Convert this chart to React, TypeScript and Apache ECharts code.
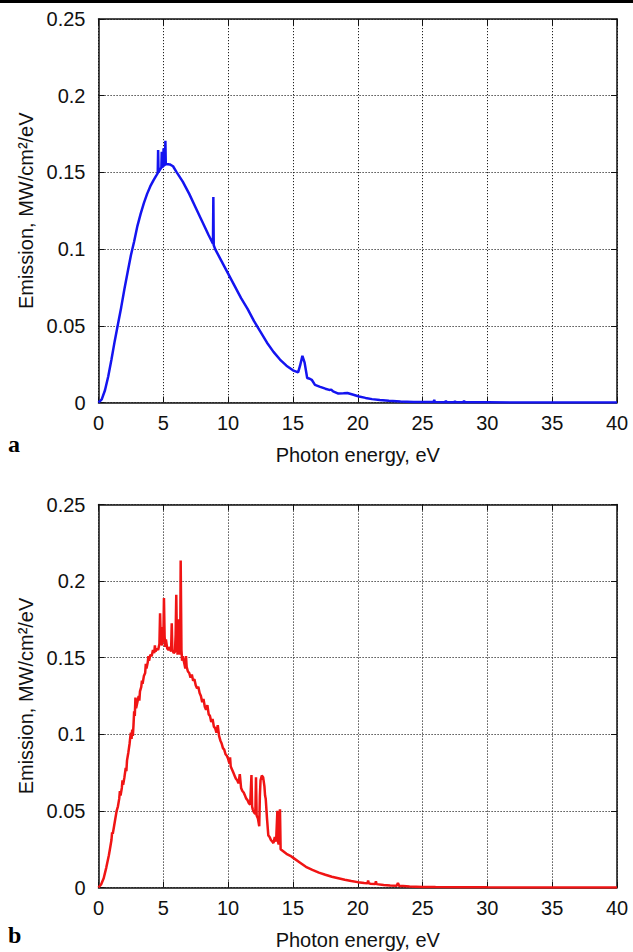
import { useEffect, useRef } from "react";
import * as echarts from "echarts";

// Panel a: emission spectrum (blue), [photon energy eV, emission MW/cm²/eV]
const spectrumA: [number, number][] = [
  [0, 0], [0.25, 0.002], [0.5, 0.008], [0.75, 0.017], [1, 0.028], [1.25, 0.04],
  [1.5, 0.051], [1.75, 0.062], [2, 0.074], [2.25, 0.085], [2.5, 0.096], [2.75, 0.105],
  [3, 0.115], [3.25, 0.123], [3.5, 0.13], [3.75, 0.136], [4, 0.141], [4.25, 0.145],
  [4.5, 0.1485], [4.57, 0.1495], [4.6, 0.1646], [4.63, 0.1502], [4.75, 0.152],
  [4.85, 0.153], [4.88, 0.1635], [4.91, 0.1535], [5.0, 0.154], [5.02, 0.1657],
  [5.05, 0.1545], [5.13, 0.155], [5.16, 0.1707], [5.19, 0.1553], [5.25, 0.1555],
  [5.5, 0.1552], [5.75, 0.154], [6, 0.1505], [6.5, 0.144], [7, 0.136], [7.5, 0.127],
  [8, 0.118], [8.5, 0.109], [8.83, 0.1035], [8.86, 0.134], [8.89, 0.1025], [9, 0.1],
  [9.5, 0.092], [10, 0.084], [10.5, 0.076], [11, 0.068], [11.5, 0.061], [12, 0.053],
  [12.5, 0.046], [13, 0.039], [13.5, 0.033], [14, 0.028], [14.5, 0.024], [15, 0.021],
  [15.4, 0.0196], [15.55, 0.024], [15.73, 0.0304], [15.9, 0.026], [16.1, 0.016],
  [16.3, 0.0155], [16.45, 0.0148], [16.7, 0.0115], [17.1, 0.0102], [17.5, 0.009],
  [17.8, 0.0082], [17.95, 0.0084], [18.1, 0.0072], [18.5, 0.0058], [18.9, 0.006],
  [19.2, 0.0062], [19.6, 0.0052], [20.1, 0.0039], [20.6, 0.003], [21.1, 0.0022],
  [21.7, 0.0016], [22.4, 0.0011], [23.3, 0.0007], [24.3, 0.0004], [25, 0.0003],
  [25.85, 0.0003], [25.9, 0.0018], [25.95, 0.0003], [26.75, 0.0002], [26.8, 0.0012],
  [26.85, 0.0002], [27.45, 0.0002], [27.5, 0.0009], [27.55, 0.0002], [28.15, 0.0001],
  [28.2, 0.0011], [28.25, 0.0001], [30, 0.0001], [35, 0], [40, 0],
];

// Panel b: emission spectrum (red), [photon energy eV, emission MW/cm²/eV]
const spectrumB: [number, number][] = [
  [0, 0], [0.2, 0.002], [0.4, 0.006], [0.6, 0.013], [0.8, 0.021], [0.9, 0.026],
  [1.0, 0.031], [1.05, 0.036], [1.1, 0.035], [1.2, 0.04], [1.3, 0.045], [1.4, 0.05],
  [1.5, 0.053], [1.6, 0.058], [1.65, 0.063], [1.7, 0.06], [1.8, 0.065], [1.85, 0.07],
  [1.9, 0.067], [2.0, 0.072], [2.1, 0.078], [2.15, 0.076], [2.2, 0.083], [2.3, 0.088],
  [2.4, 0.094], [2.45, 0.098], [2.5, 0.101], [2.55, 0.097], [2.6, 0.103], [2.65, 0.099],
  [2.7, 0.106], [2.75, 0.115], [2.8, 0.112], [2.85, 0.124], [2.9, 0.117], [3.0, 0.121],
  [3.1, 0.125], [3.15, 0.122], [3.2, 0.128], [3.3, 0.131], [3.35, 0.135], [3.4, 0.133],
  [3.5, 0.138], [3.6, 0.14], [3.65, 0.146], [3.7, 0.143], [3.8, 0.147], [3.85, 0.151],
  [3.9, 0.148], [4.0, 0.152], [4.1, 0.151], [4.2, 0.155], [4.3, 0.153], [4.35, 0.158],
  [4.4, 0.154], [4.5, 0.156], [4.6, 0.155], [4.7, 0.159], [4.75, 0.179], [4.8, 0.163],
  [4.9, 0.158], [4.95, 0.17], [5.0, 0.16], [5.05, 0.189], [5.1, 0.164], [5.15, 0.157],
  [5.2, 0.162], [5.3, 0.156], [5.4, 0.155], [5.5, 0.157], [5.6, 0.154], [5.65, 0.1725],
  [5.7, 0.155], [5.8, 0.153], [5.9, 0.154], [5.95, 0.165], [6.0, 0.191], [6.05, 0.16],
  [6.1, 0.152], [6.2, 0.175], [6.3, 0.152], [6.34, 0.2135], [6.4, 0.155], [6.45, 0.148],
  [6.5, 0.151], [6.6, 0.147], [6.7, 0.143], [6.75, 0.151], [6.8, 0.144], [6.9, 0.141],
  [7.0, 0.14], [7.1, 0.137], [7.2, 0.139], [7.3, 0.135], [7.4, 0.136], [7.5, 0.132],
  [7.6, 0.13], [7.7, 0.131], [7.8, 0.127], [7.9, 0.125], [8.0, 0.121], [8.1, 0.123],
  [8.2, 0.118], [8.3, 0.116], [8.4, 0.119], [8.5, 0.113], [8.6, 0.112], [8.7, 0.108],
  [8.8, 0.11], [8.9, 0.105], [9.0, 0.104], [9.1, 0.101], [9.2, 0.106], [9.3, 0.099],
  [9.4, 0.096], [9.5, 0.094], [9.6, 0.091], [9.7, 0.09], [9.8, 0.087], [9.9, 0.086],
  [10.0, 0.084], [10.1, 0.081], [10.15, 0.085], [10.2, 0.079], [10.3, 0.077],
  [10.4, 0.075], [10.5, 0.073], [10.6, 0.071], [10.7, 0.07], [10.8, 0.068], [10.9, 0.074],
  [11.0, 0.065], [11.1, 0.063], [11.2, 0.062], [11.3, 0.06], [11.4, 0.058], [11.5, 0.057],
  [11.6, 0.055], [11.7, 0.054], [11.8, 0.0734], [11.85, 0.053], [11.9, 0.051],
  [12.0, 0.049], [12.1, 0.048], [12.15, 0.072], [12.2, 0.047], [12.3, 0.045],
  [12.4, 0.04], [12.45, 0.06], [12.5, 0.07], [12.6, 0.073], [12.7, 0.072], [12.8, 0.066],
  [12.85, 0.06], [12.9, 0.058], [13.0, 0.045], [13.1, 0.034], [13.2, 0.033], [13.3, 0.031],
  [13.4, 0.03], [13.5, 0.029], [13.6, 0.033], [13.7, 0.03], [13.8, 0.05], [13.85, 0.03],
  [13.9, 0.028], [14.0, 0.051], [14.05, 0.025], [14.2, 0.024], [14.5, 0.022],
  [14.8, 0.0207], [15.0, 0.0195], [15.5, 0.0165], [16.0, 0.0135], [16.5, 0.0115],
  [17.0, 0.0097], [17.5, 0.0083], [18.0, 0.007], [18.5, 0.006], [19.0, 0.005],
  [19.5, 0.0042], [20.0, 0.0035], [20.5, 0.0029], [20.75, 0.0027], [20.8, 0.0045],
  [20.85, 0.0027], [21.0, 0.0025], [21.35, 0.0023], [21.4, 0.004], [21.45, 0.0022],
  [22.0, 0.0017], [22.5, 0.0013], [23.0, 0.0011], [23.1, 0.003], [23.2, 0.001],
  [23.5, 0.0009], [24, 0.0007], [25, 0.0004], [26, 0.0003], [28, 0.0002], [30, 0.0001],
  [35, 0], [40, 0],
];

const X_MIN = 0;
const X_MAX = 40;
const X_STEP = 5;
const Y_MIN = 0;
const Y_MAX = 0.25;
const Y_STEP = 0.05;
const X_NAME = "Photon energy, eV";
const Y_NAME = "Emission, MW/cm²/eV";
const PANEL_LABELS = ["a", "b"];

export default function App() {
  const ref = useRef<HTMLDivElement>(null);

  useEffect(() => {
    if (!ref.current) return;
    const chart = echarts.init(ref.current, null, { renderer: "svg" });
    const font = "'Liberation Sans', Arial, Helvetica, sans-serif";
    const ink = "#111";
    const grids = [
      { left: 98.5, top: 19, width: 518.5, height: 383.5 },
      { left: 98.5, top: 504.5, width: 518.5, height: 383 },
    ];
    const frame = { show: true, onZero: false, lineStyle: { color: ink, width: 1.5 } };
    const tick = { show: true, inside: true, length: 6, lineStyle: { color: ink, width: 1 } };
    const split = { show: true, lineStyle: { color: "#222", type: [1.2, 1.8], width: 1 } };
    const label = { fontSize: 20, color: ink, fontFamily: font };

    const xAxis: any[] = [];
    const yAxis: any[] = [];
    grids.forEach((_, i) => {
      xAxis.push({
        type: "value", gridIndex: i, min: X_MIN, max: X_MAX, interval: X_STEP,
        position: "bottom", axisLine: frame, axisTick: tick, splitLine: split,
        axisLabel: { ...label, margin: 10 },
        name: X_NAME, nameLocation: "middle", nameGap: 42,
        nameTextStyle: { ...label },
      });
      xAxis.push({
        type: "value", gridIndex: i, min: X_MIN, max: X_MAX, interval: X_STEP,
        position: "top", axisLine: frame, axisTick: tick,
        axisLabel: { show: false }, splitLine: { show: false },
      });
      yAxis.push({
        type: "value", gridIndex: i, min: Y_MIN, max: Y_MAX, interval: Y_STEP,
        position: "left", axisLine: frame, axisTick: tick, splitLine: split,
        axisLabel: { ...label, margin: 13 },
        name: Y_NAME, nameLocation: "middle", nameGap: 60,
        nameTextStyle: { ...label },
      });
      yAxis.push({
        type: "value", gridIndex: i, min: Y_MIN, max: Y_MAX, interval: Y_STEP,
        position: "right", axisLine: frame, axisTick: tick,
        axisLabel: { show: false }, splitLine: { show: false },
      });
    });

    chart.setOption({
      animation: false,
      backgroundColor: "#fff",
      grid: grids,
      xAxis,
      yAxis,
      series: [
        {
          type: "line", xAxisIndex: 0, yAxisIndex: 0, data: spectrumA,
          showSymbol: false, symbol: "none",
          lineStyle: { color: "#1414f0", width: 2.5 },
          z: 5,
        },
        {
          type: "line", xAxisIndex: 2, yAxisIndex: 2, data: spectrumB,
          showSymbol: false, symbol: "none",
          lineStyle: { color: "#f01414", width: 2.5 },
          z: 5,
        },
      ],
      graphic: [
        { type: "rect", left: 0, top: 0, shape: { x: 0, y: 0, width: 633, height: 3 }, style: { fill: "#000" } },
        {
          type: "text", left: 8, top: 432,
          style: { text: PANEL_LABELS[0], fontSize: 24, fontWeight: "bold", fontFamily: "'Liberation Serif', 'Times New Roman', serif", fill: "#000" },
        },
        {
          type: "text", left: 8, top: 923,
          style: { text: PANEL_LABELS[1], fontSize: 24, fontWeight: "bold", fontFamily: "'Liberation Serif', 'Times New Roman', serif", fill: "#000" },
        },
      ],
    });

    return () => chart.dispose();
  }, []);

  return (
    <div
      ref={ref}
      style={{ position: "absolute", left: 0, top: 0, width: 633, height: 952, background: "#fff" }}
    />
  );
}
